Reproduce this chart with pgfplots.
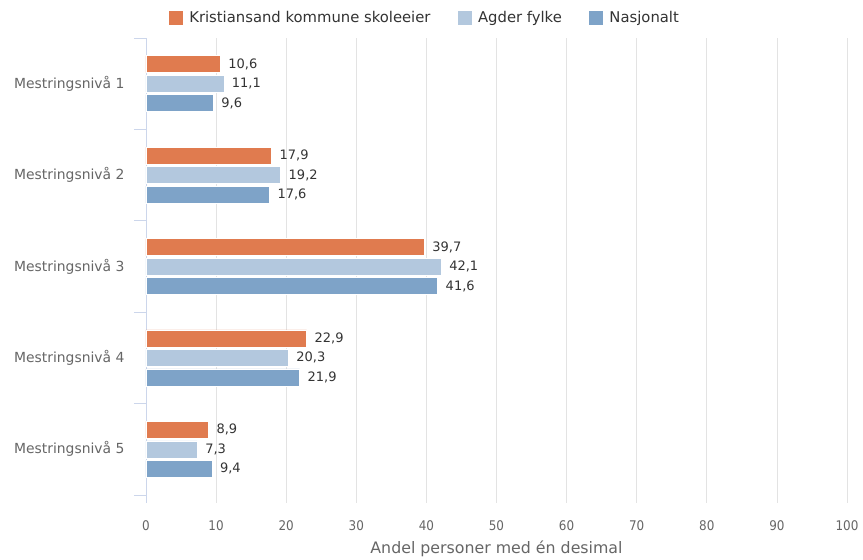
\documentclass[border=0pt]{standalone}
\usepackage{pgfplots}
\pgfplotsset{compat=1.18}
\usepackage{fontspec}
\setmainfont{DejaVu Sans}
\newfontfamily\condfont{DejaVu Sans Condensed}
\definecolor{orng}{HTML}{E07B4F}
\definecolor{lblue}{HTML}{B3C8DE}
\definecolor{mblue}{HTML}{7EA3C8}
\definecolor{axcol}{HTML}{CCD6EB}
\definecolor{gridcol}{HTML}{E3E3E3}
\definecolor{txt}{HTML}{666666}
\begin{document}
\begin{tikzpicture}
\path[use as bounding box] (-146pt,-57pt) rectangle (717pt,503pt);
\begin{axis}[
  scale only axis, width=701pt, height=465pt,
  xbar, bar width=17pt,
  xmin=0, xmax=100, ymin=-0.5, ymax=4.5875,
  y dir=reverse,
  xtick={0,10,...,100},
  ytick={0,1,2,3,4},
  yticklabels={Mestringsnivå 1,Mestringsnivå 2,Mestringsnivå 3,Mestringsnivå 4,Mestringsnivå 5},
  minor ytick={-0.5,0.5,1.5,2.5,3.5,4.5},
  major tick length=0pt,
  minor tick length=12pt,
  tick align=outside,
  minor tick style={axcol, line width=0.8pt},
  axis x line*=bottom, axis y line*=left,
  x axis line style={draw=none},
  y axis line style={axcol, line width=0.8pt},
  xmajorgrids, grid style={gridcol, line width=0.8pt},
  yticklabel style={font=\fontsize{13.9}{16}\selectfont, text=txt, xshift=-18pt},
  xticklabel style={font=\condfont\fontsize{13.3}{15}\selectfont, text=txt, yshift=-14pt},
  /pgf/number format/assume math mode=true,
  xlabel={Andel personer med én desimal},
  xlabel style={font=\fontsize{15.8}{18}\selectfont, text=txt, yshift=-3pt},
  nodes near coords,
  nodes near coords style={font=\fontsize{13}{15}\selectfont, text=black!80, xshift=4.5pt,
    /pgf/number format/.cd, fixed, fixed zerofill, precision=1, use comma, assume math mode=true},
  every axis plot/.append style={draw=white, line width=0.6pt},
  legend style={at={(0.397,1.0441)}, anchor=center, draw=none,
    font=\fontsize{14.8}{17}\selectfont, text=black!80,
    legend columns=3,
    /tikz/every odd column/.append style={column sep=4pt},
    /tikz/every even column/.append style={column sep=24pt}},
  legend image code/.code={\fill[#1] (0pt,-7.5pt) rectangle (15pt,7.5pt);},
]
\addplot[fill=orng, draw=white, bar shift=19.5pt] coordinates {(10.6,0) (17.9,1) (39.7,2) (22.9,3) (8.9,4)};
\addplot[fill=lblue, draw=white, bar shift=0pt] coordinates {(11.1,0) (19.2,1) (42.1,2) (20.3,3) (7.3,4)};
\addplot[fill=mblue, draw=white, bar shift=-19.5pt] coordinates {(9.6,0) (17.6,1) (41.6,2) (21.9,3) (9.4,4)};
\legend{Kristiansand kommune skoleeier, Agder fylke, Nasjonalt}
\end{axis}
\end{tikzpicture}
\end{document}
